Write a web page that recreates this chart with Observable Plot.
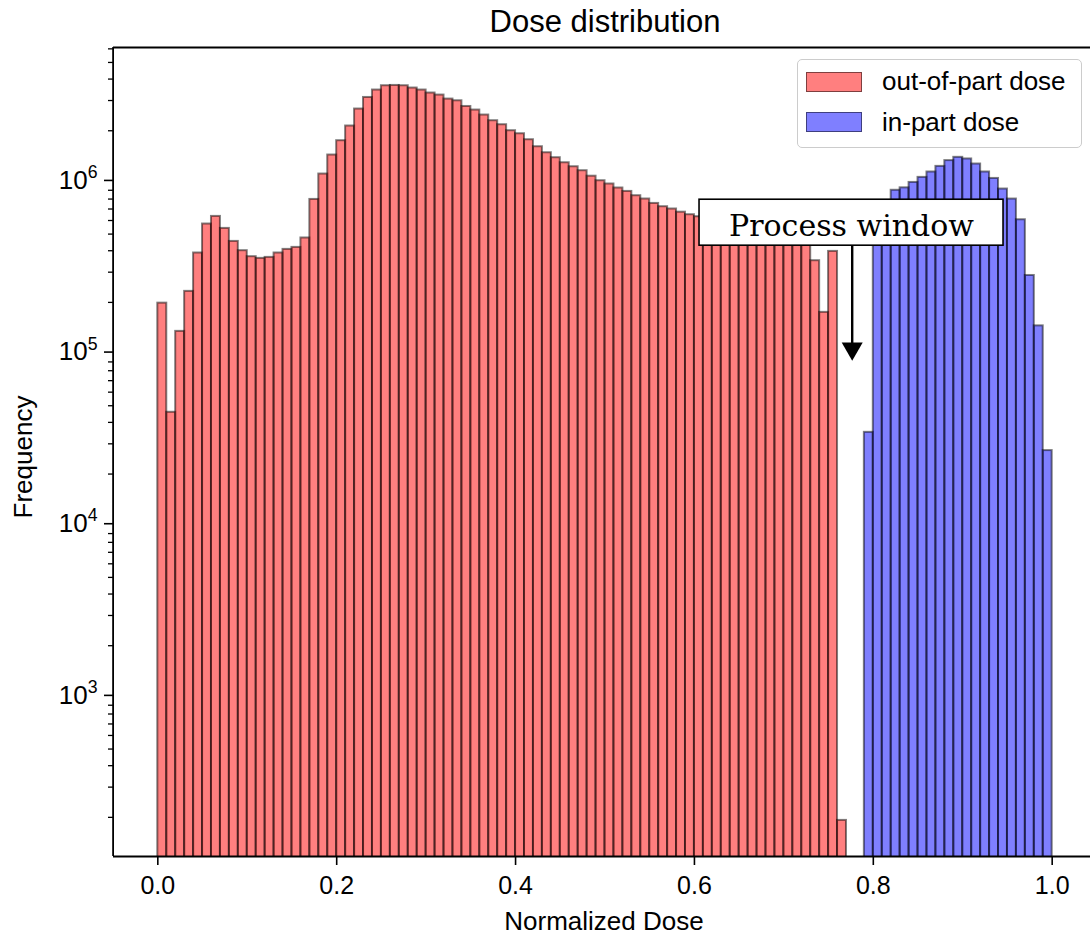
<!DOCTYPE html>
<html>
<head>
<meta charset="utf-8">
<script src="https://cdn.jsdelivr.net/npm/d3@7"></script>
<script src="https://cdn.jsdelivr.net/npm/@observablehq/plot@0.6"></script>
<style>
  html, body { margin: 0; padding: 0; background: #fff; }
  #wrap { position: relative; width: 1090px; height: 938px; overflow: hidden; }
  .legend { position: absolute; left: 797px; top: 59px; width: 283px; height: 87px;
    border: 1.5px solid #cccccc; border-radius: 5px; background: rgba(255,255,255,0.8);
    font-family: "Liberation Sans", Arial, sans-serif; font-size: 26px; color: #000; }
  .legend .patch { position: absolute; left: 8px; width: 54px; height: 18px; border: 1.5px solid rgba(0,0,0,0.5); }
  .legend .lab { position: absolute; left: 84px; line-height: 30px; white-space: nowrap; }
</style>
</head>
<body>
<div id="wrap"></div>
<script>
// ---- data ----
const binWidth = 0.01;
const outOfPartStart = 0.0;
const inPartStart = 0.79;
const outOfPartCounts = [
  198000, 45800, 135600, 231900, 388000, 572300, 633900, 539700, 453300, 400200,
  369300, 361000, 365800, 388000, 407300, 418300, 474600, 796100, 1119000, 1444000,
  1750000, 2131000, 2676000, 3126000, 3453000, 3658000, 3673000, 3658000, 3547000, 3453000,
  3317000, 3228000, 3059000, 2990000, 2770000, 2640000, 2469000, 2288000, 2168000, 2001000,
  1921000, 1773000, 1614000, 1489000, 1393000, 1302000, 1234000, 1170000, 1087000, 1023000,
  979000, 927800, 886300, 836700, 800400, 754500, 721900, 700000, 670800, 648400,
  631200, 614500, 598200, 582400, 567000, 552100, 537500, 523300, 509300, 496000,
  483000, 470000, 451400, 349900, 175000, 396400, 192
];
const inPartCounts = [
  35000, 500000, 720000, 900000, 930000, 1000000, 1070000, 1150000, 1240000, 1340000,
  1400000, 1370000, 1280000, 1150000, 1055000, 915000, 800000, 606000, 287000, 146000,
  27400
];
const seriesNames = ["out-of-part dose", "in-part dose"];
const seriesColors = ["red", "blue"];
const xTicks = [0, 0.2, 0.4, 0.6, 0.8, 1.0];
const yMajorTicks = [1e3, 1e4, 1e5, 1e6];
const xDomain = [-0.05, 1.05];
const yDomain = [118.3, 6.11e6];
const yMinorTicks = [];
for (const dec of [1e2, 1e3, 1e4, 1e5, 1e6]) for (let m = 2; m <= 9; m++) {
  const v = m * dec;
  if (v >= yDomain[0] && v <= yDomain[1]) yMinorTicks.push(v);
}
const yFloor = 1;
// annotation ("Process window" box and arrow), in data units
const annotText = "Process window";
const boxX = [0.6057, 0.9456];
const boxY = [4.28e5, 7.93e5];
const textX = 0.7756, textY = 5.57e5;
const arrowX = 0.7764, arrowY1 = 4.28e5, arrowY2 = 1.13e5, headY = 1.077e5;

// ---- table ----
const toBins = (counts, start, series) => counts.map((c, i) => ({
  series, x1: start + i * binWidth, x2: start + (i + 1) * binWidth, count: c
}));
const outBins = toBins(outOfPartCounts, outOfPartStart, seriesNames[0]);
const inBins = toBins(inPartCounts, inPartStart, seriesNames[1]);

const font = "Liberation Sans, Arial, sans-serif";

const chart = Plot.plot({
  width: 1090,
  height: 938,
  marginLeft: 113,
  marginRight: 0,
  marginTop: 47,
  marginBottom: 82,
  style: { fontFamily: font, fontSize: "26px", background: "transparent", color: "black" },
  x: { domain: xDomain, range: [112.6, 1096.4] },
  y: { type: "log", domain: yDomain },
  marks: [
    Plot.rectY(outBins, { x1: "x1", x2: "x2", y1: yFloor, y2: "count", fill: seriesColors[0], fillOpacity: 0.5,
      stroke: "black", strokeOpacity: 0.5, strokeWidth: 2, clip: true }),
    Plot.rectY(inBins, { x1: "x1", x2: "x2", y1: yFloor, y2: "count", fill: seriesColors[1], fillOpacity: 0.5,
      stroke: "black", strokeOpacity: 0.5, strokeWidth: 2, clip: true }),
    Plot.rect([0], { x1: () => boxX[0], x2: () => boxX[1], y1: () => boxY[0], y2: () => boxY[1],
      fill: "white", stroke: "black", strokeWidth: 1.6 }),
    Plot.text([annotText], { x: () => textX, y: () => textY, text: d => d, fontFamily: "DejaVu Serif, serif",
      fontSize: 30, fill: "black", textAnchor: "middle", lineAnchor: "middle" }),
    Plot.link([0], { x1: () => arrowX, x2: () => arrowX, y1: () => arrowY1, y2: () => arrowY2, stroke: "black", strokeWidth: 2.4 }),
    Plot.dot([0], { x: () => arrowX, y: () => headY, symbol: "triangle", r: 7.8, fill: "black", stroke: "none", rotate: 180 }),
    // spines
    Plot.ruleY([yDomain[1]], { stroke: "black", strokeWidth: 1.8 }),
    Plot.ruleY([yDomain[0]], { stroke: "black", strokeWidth: 1.8 }),
    Plot.ruleX([xDomain[0]], { stroke: "black", strokeWidth: 1.8 }),
    // axes
    Plot.axisX({ ticks: xTicks, tickFormat: d3.format(".1f"), tickSize: 9, tickPadding: 11, fontSize: 25,
      strokeWidth: 1.6, label: null }),
    Plot.axisY({ ticks: yMinorTicks, tickFormat: () => "", tickSize: 5, strokeWidth: 1.3, label: null }),
    Plot.axisY({ ticks: yMajorTicks, tickFormat: d => "10^" + Math.round(Math.log10(d)), tickSize: 9, tickPadding: 7,
      fontSize: 26, strokeWidth: 1.6, label: null, dy: -2 }),
    // titles
    Plot.text(["Dose distribution"], { frameAnchor: "top", dy: -16, dx: 3, textAnchor: "middle", lineAnchor: "bottom", fontSize: 31, fill: "black" }),
    Plot.text(["Normalized Dose"], { frameAnchor: "bottom", dy: 73, dx: 2, textAnchor: "middle", lineAnchor: "bottom", fontSize: 26, fill: "black" }),
    Plot.text(["Frequency"], { frameAnchor: "left", dx: -82, dy: 5, rotate: -90, textAnchor: "middle", lineAnchor: "bottom", fontSize: 26, fill: "black" })
  ]
});

// superscript exponents on the log-axis labels
d3.select(chart).selectAll('g[aria-label="y-axis tick label"] text').each(function () {
  const s = this.textContent;
  if (!s.startsWith("10^")) return;
  const exp = s.slice(3);
  this.textContent = "";
  const t = d3.select(this);
  t.append("tspan").text("10");
  t.append("tspan").attr("dy", "-0.6em").attr("font-size", "0.68em").text(exp);
});

const wrap = document.getElementById("wrap");
wrap.appendChild(chart);

// legend
const legend = document.createElement("div");
legend.className = "legend";
seriesNames.forEach((name, i) => {
  const patch = document.createElement("div");
  patch.className = "patch";
  patch.style.top = (12 + i * 40) + "px";
  patch.style.background = i === 0 ? "rgba(255,0,0,0.5)" : "rgba(0,0,255,0.5)";
  const lab = document.createElement("div");
  lab.className = "lab";
  lab.style.top = (5.5 + i * 41) + "px";
  lab.textContent = name;
  legend.appendChild(patch);
  legend.appendChild(lab);
});
wrap.appendChild(legend);
</script>
</body>
</html>
